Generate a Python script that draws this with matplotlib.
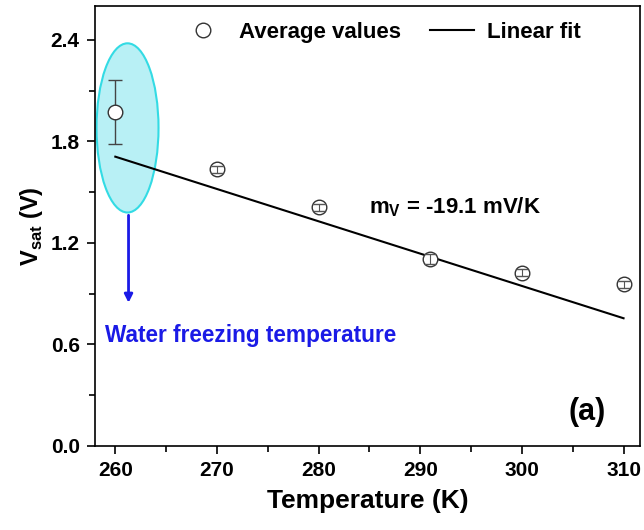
import matplotlib
matplotlib.use("Agg")
import matplotlib.pyplot as plt
import numpy as np
from matplotlib.lines import Line2D
from matplotlib.patches import Ellipse
from matplotlib.ticker import FormatStrFormatter, MultipleLocator

plt.rcParams["font.family"] = ["Liberation Sans", "DejaVu Sans"]
plt.rcParams["font.weight"] = "bold"

# averaged measurements
temps = np.array([260, 270, 280, 291, 300, 310])
vsat = np.array([1.975, 1.635, 1.41, 1.105, 1.025, 0.955])
vsat_err = np.array([0.19, 0.02, 0.02, 0.03, 0.02, 0.02])

# linear fit, slope -19.1 mV/K
fit_t = np.array([260, 310])
fit_intercept = 1.71
fit_slope = -0.0191

fig = plt.figure(figsize=(6.44, 5.30), dpi=100)
ax = fig.add_axes([0.1475, 0.1585, 0.846, 0.830])

# highlight of the freezing-point measurement
ell = Ellipse((261.2, 1.88), 6.1, 1.0, facecolor="#b8f0f5", edgecolor="#33dbe4",
              linewidth=1.5, zorder=1)
ax.add_patch(ell)

ax.plot(fit_t, fit_intercept + fit_slope * (fit_t - 260), color="black", lw=1.5, zorder=2)
# big error bar sits behind its marker, the small ones show through the circles
ax.errorbar(temps[:1], vsat[:1], yerr=vsat_err[:1], fmt="none", ecolor="#444444",
            elinewidth=1.0, capsize=5, zorder=2.5)
ax.plot(temps, vsat, "o", mfc="white", mec="#333333", mew=1.0, ms=10.5, zorder=3)
ax.errorbar(temps[1:], vsat[1:], yerr=vsat_err[1:], fmt="none", ecolor="#555555",
            elinewidth=0.8, capsize=4, zorder=4)

ax.annotate("", xy=(261.3, 0.83), xytext=(261.3, 1.38),
            arrowprops=dict(arrowstyle="-|>", color="#1a1ae6", lw=2, mutation_scale=12))
ax.text(259.0, 0.655, "Water freezing temperature", color="#1a1ae6", fontsize=16.3,
        fontweight="bold", va="center", ha="left")
ax.text(285.0, 1.41, r"m$_\mathregular{V}$ = -19.1 mV/K", fontsize=16,
        fontweight="bold", va="center", ha="left")
ax.text(304.6, 0.2, "(a)", fontsize=22, fontweight="bold", va="center", ha="left")

ax.set_xlim(258, 311.6)
ax.set_ylim(0, 2.6)
ax.xaxis.set_major_locator(MultipleLocator(10))
ax.xaxis.set_minor_locator(MultipleLocator(5))
ax.yaxis.set_major_locator(MultipleLocator(0.6))
ax.yaxis.set_minor_locator(MultipleLocator(0.3))
ax.yaxis.set_major_formatter(FormatStrFormatter("%.1f"))
ax.tick_params(which="both", direction="out", width=1.2)
ax.tick_params(which="major", length=6, labelsize=15, pad=5)
ax.tick_params(which="minor", length=4)
for lab in ax.get_xticklabels() + ax.get_yticklabels():
    lab.set_fontweight("bold")
for sp in ax.spines.values():
    sp.set_linewidth(1.2)

ax.set_xlabel("Temperature (K)", fontsize=19, fontweight="bold", labelpad=6)
ax.set_ylabel(r"V$_\mathregular{sat}$ (V)", fontsize=17, fontweight="bold", labelpad=4)

handles = [
    Line2D([], [], ls="none", marker="o", mfc="white", mec="#333333", mew=1.0, ms=10.5),
    Line2D([], [], color="black", lw=1.5),
]
ax.legend(handles, ["Average values", "Linear fit"], loc="center",
          bbox_to_anchor=(0.525, 0.94), ncol=2, frameon=False, handlelength=2.0,
          columnspacing=1.3, handletextpad=0.6, prop={"weight": "bold", "size": 16})

fig.savefig("out.png", dpi=100)
